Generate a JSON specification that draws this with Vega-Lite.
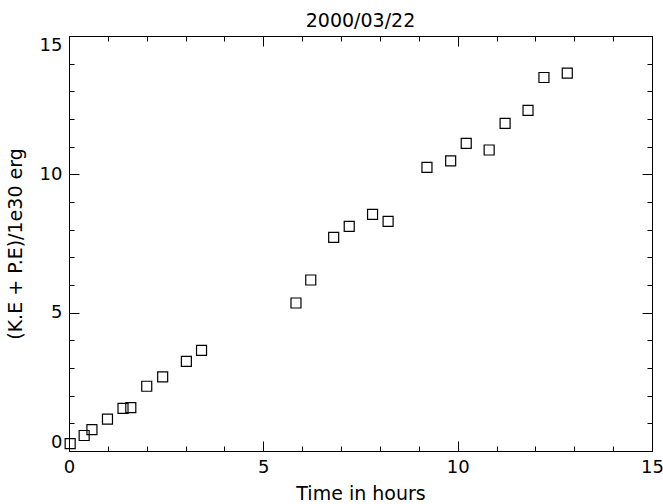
{
  "$schema": "https://vega.github.io/schema/vega-lite/v6.json",
  "autosize": "none",
  "padding": {"left": 69, "top": 36, "right": 11, "bottom": 53},
  "width": 583,
  "height": 415,
  "background": "white",
  "title": {"text": "2000/03/22", "font": "DejaVu Sans", "fontSize": 19, "fontWeight": "normal", "color": "black", "baseline": "alphabetic", "offset": 9, "dy": 19, "anchor": "middle"},
  "config": {
    "view": {"stroke": "black", "strokeWidth": 1},
    "axis": {"domain": false, "grid": false, "labelFont": "DejaVu Sans", "labelFontSize": 18, "labelColor": "black", "tickColor": "black", "tickWidth": 1, "titleFont": "DejaVu Sans", "titleFontSize": 19, "titleFontWeight": "normal", "titleColor": "black",
      "values": [0, 1, 2, 3, 4, 5, 6, 7, 8, 9, 10, 11, 12, 13, 14, 15],
      "tickSize": 10, "offset": -10,
      "tickDash": {"condition": {"test": "datum.value % 5 === 0", "value": [10, 0]}, "value": [0, 5, 5, 0]},
      "labelExpr": "datum.value % 5 === 0 ? datum.label : ''"}
  },
  "data": {"values": [
    {"t": 0.03, "e": 0.27},
    {"t": 0.39, "e": 0.56},
    {"t": 0.59, "e": 0.77},
    {"t": 0.99, "e": 1.15},
    {"t": 1.39, "e": 1.54},
    {"t": 1.59, "e": 1.57},
    {"t": 2.0, "e": 2.34},
    {"t": 2.41, "e": 2.68},
    {"t": 3.02, "e": 3.24},
    {"t": 3.41, "e": 3.64},
    {"t": 5.84, "e": 5.35},
    {"t": 6.22, "e": 6.18},
    {"t": 6.81, "e": 7.72},
    {"t": 7.21, "e": 8.12},
    {"t": 7.81, "e": 8.55},
    {"t": 8.21, "e": 8.3},
    {"t": 9.21, "e": 10.25},
    {"t": 9.82, "e": 10.49},
    {"t": 10.22, "e": 11.12},
    {"t": 10.81, "e": 10.88},
    {"t": 11.22, "e": 11.84},
    {"t": 11.81, "e": 12.31},
    {"t": 12.22, "e": 13.5},
    {"t": 12.82, "e": 13.66}
  ]},
  "resolve": {"axis": {"x": "independent", "y": "independent"}},
  "layer": [
    {
      "mark": {"type": "point", "shape": "square", "size": 100, "filled": false, "stroke": "black", "strokeWidth": 1.2, "opacity": 1},
      "encoding": {
        "x": {"field": "t", "type": "quantitative", "scale": {"domain": [0, 15], "nice": false, "zero": false},
              "axis": {"orient": "bottom", "labelFlush": false, "labelPadding": 7, "title": "Time in hours", "titleBaseline": "alphabetic", "titleY": 58, "titleX": 291.5, "titleAlign": "center"}},
        "y": {"field": "e", "type": "quantitative", "scale": {"domain": [0, 15], "nice": false, "zero": false},
              "axis": {"orient": "left", "labelPadding": 7, "labelFlush": true, "title": "(K.E + P.E)/1e30 erg", "titleAngle": -90, "titleBaseline": "alphabetic", "titleAlign": "center", "titleX": -58, "titleY": 207.5}}
      }
    },
    {
      "mark": {"type": "point", "opacity": 0},
      "encoding": {
        "x": {"field": "t", "type": "quantitative", "axis": {"orient": "top", "labels": false, "title": null}},
        "y": {"field": "e", "type": "quantitative", "axis": {"orient": "right", "labels": false, "title": null}}
      }
    }
  ]
}
